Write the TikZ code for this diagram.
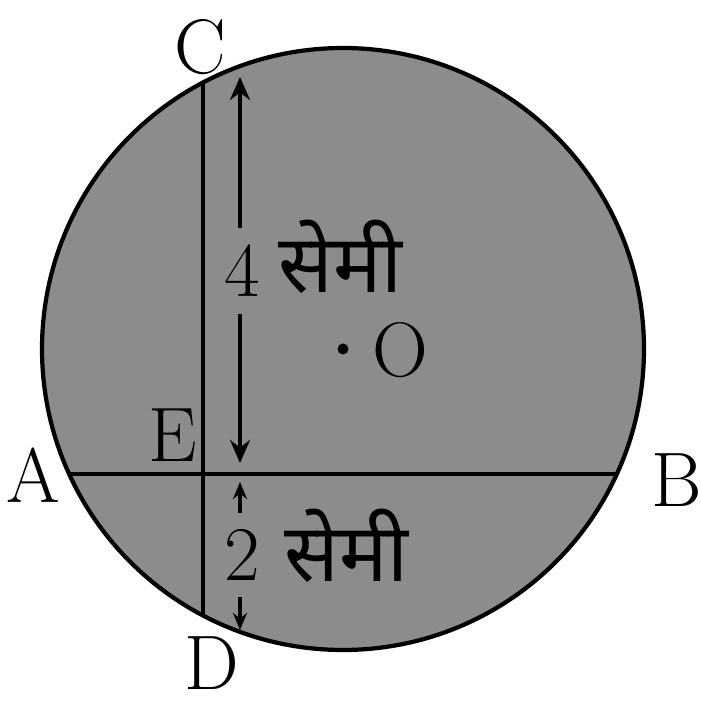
\documentclass[tikz,border=0pt]{standalone}
\usepackage{fontspec}
\newfontfamily\hindifont[Script=Devanagari]{Noto Sans}
\usetikzlibrary{arrows.meta}

\begin{document}
\begin{tikzpicture}[
  lbl/.style={inner sep=0pt, font=\fontsize{22}{26}\selectfont},
  num/.style={inner sep=1.6mm, font=\fontsize{22}{26}\selectfont},
  unit/.style={inner sep=0pt, anchor=base west,
               font=\fontsize{23}{27}\selectfont\hindifont},
  dimbig/.style={line width=1pt, -{Stealth[length=2.3mm, width=2mm]}},
  dimsmall/.style={line width=1pt, -{Stealth[length=1.7mm, width=1.4mm]}},
  chord/.style={line width=1.2pt}]
  \useasboundingbox (0,0) rectangle (7.01,7.01);
  \coordinate (O) at (3.43,3.52);
  \fill[black!45] (O) circle (3.01);
  \coordinate (A) at ([shift={(204.5:3.01)}]O);
  \coordinate (B) at ([shift={(335.5:3.01)}]O);
  \coordinate (C) at ([shift={(117.7:3.01)}]O);
  \coordinate (D) at ([shift={(242.3:3.01)}]O);
  \coordinate (E) at (C |- A);
  \coordinate (tC) at (2.40,6.24);
  \coordinate (tE1) at (2.40,2.38);
  \coordinate (tE2) at (2.40,2.19);
  \coordinate (tD) at (2.40,0.71);
  \draw[chord] (A) -- (B);
  \draw[chord] (C) -- (D);
  \draw[line width=1.2pt] (O) circle (3.01);
  \fill (O) circle (0.055);
  \node[lbl] (lC) at (2.00,6.54) {C};
  \node[lbl] (lA) at (0.33,2.26) {A};
  \node[lbl] (lE) at (1.73,2.66) {E};
  \node[lbl] (lD) at (2.12,0.38) {D};
  \node[lbl] (lB) at (6.77,2.21) {B};
  \node[lbl, anchor=west] (lO) at (3.72,3.51) {O};
  \node[num] (n4) at (2.42,4.30) {4};
  \node[unit] (u4) at (2.78,4.08) {सेमी};
  \node[num] (n2) at (2.42,1.46) {2};
  \node[unit] (u2) at (2.84,1.19) {सेमी};
  \draw[dimbig] (n4.north -| tC) -- (tC);
  \draw[dimbig] (n4.south -| tC) -- (tE1);
  \draw[dimsmall] (n2.north -| tC) -- (tE2);
  \draw[dimsmall] (n2.south -| tC) -- (tD);
\end{tikzpicture}
\end{document}
